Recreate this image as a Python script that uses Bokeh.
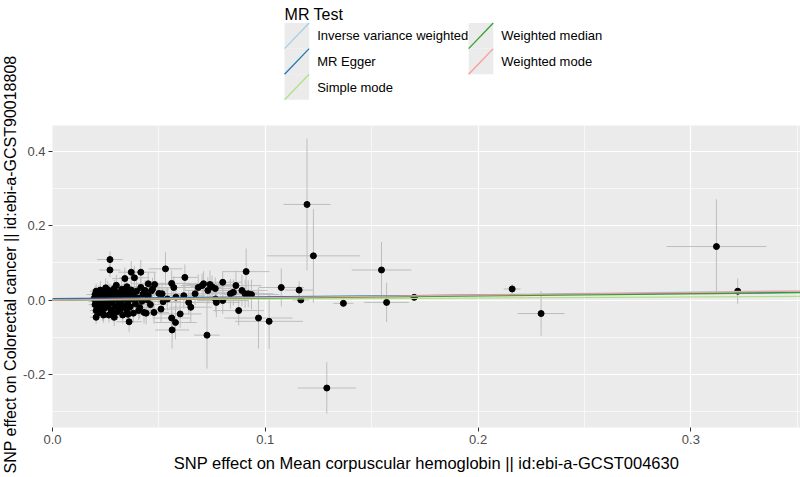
import math
from bokeh.plotting import figure
from bokeh.models import Range1d, FixedTicker, Slope, ColumnDataSource, NumeralTickFormatter
from bokeh.layouts import column, row
from bokeh.embed import file_html
from bokeh.resources import INLINE
from bokeh.core.properties import value

FONT = "Liberation Sans"

# ---- data: SNP effects (exposure bx, outcome by) and their standard errors ----
outlier_bx = [0.312, 0.322, 0.2296, 0.216, 0.1196, 0.1226, 0.1546, 0.157, 0.170, 0.1367,
              0.1289, 0.1075, 0.1159, 0.1167, 0.0968, 0.1018]
outlier_by = [0.144, 0.024, -0.036, 0.030, 0.257, 0.119, 0.081, -0.006, 0.0075, -0.0086,
              -0.236, 0.034, 0.027, 0.0005, -0.048, -0.057]
outlier_sx = [0.0235, 0.0015, 0.011, 0.004, 0.011, 0.0218, 0.014, 0.0105, 0.002, 0.0047,
              0.0137, 0.0106, 0.0067, 0.0039, 0.016, 0.016]
outlier_sy = [0.127, 0.034, 0.060, 0.013, 0.177, 0.126, 0.075, 0.053, 0.008, 0.010,
              0.069, 0.051, 0.024, 0.006, 0.082, 0.074]

mid_bx = [0.091, 0.0531, 0.0622, 0.080, 0.0726, 0.0562, 0.0875, 0.0477, 0.048, 0.047,
          0.050, 0.051, 0.0515, 0.052, 0.054, 0.056, 0.056, 0.057, 0.0578, 0.058,
          0.060, 0.0617, 0.064, 0.065, 0.067, 0.0685, 0.0703, 0.071, 0.073, 0.074,
          0.075, 0.0765, 0.0766, 0.077, 0.080, 0.0836, 0.085, 0.0862, 0.089, 0.0905,
          0.092, 0.0935]
mid_by = [0.0766, 0.084, 0.061, 0.048, -0.094, -0.080, -0.028, -0.033, 0.042, 0.030,
          0.018, -0.024, 0.017, -0.004, 0.003, 0.045, -0.048, 0.034, -0.060, 0.008,
          -0.037, 0.012, -0.006, -0.019, 0.017, 0.034, 0.039, 0.044, 0.026, 0.042,
          0.036, 0.031, 0.003, -0.006, -0.001, 0.017, 0.021, 0.039, 0.026, 0.017,
          0.017, 0.015]
mid_sx = [0.011, 0.008, 0.006, 0.009, 0.006, 0.008, 0.012, 0.007, 0.008, 0.008,
          0.008, 0.009, 0.009, 0.008, 0.009, 0.009, 0.009, 0.009, 0.010, 0.009,
          0.010, 0.010, 0.010, 0.010, 0.010, 0.011, 0.010, 0.010, 0.011, 0.011,
          0.010, 0.010, 0.011, 0.011, 0.012, 0.012, 0.012, 0.012, 0.012, 0.012,
          0.012, 0.013]
mid_sy = [0.062, 0.045, 0.035, 0.030, 0.090, 0.050, 0.040, 0.030, 0.032, 0.030,
          0.028, 0.035, 0.030, 0.027, 0.030, 0.035, 0.040, 0.030, 0.045, 0.032,
          0.038, 0.035, 0.033, 0.040, 0.030, 0.035, 0.032, 0.034, 0.036, 0.038,
          0.030, 0.030, 0.034, 0.040, 0.036, 0.040, 0.035, 0.040, 0.042, 0.038,
          0.036, 0.040]

cluster_bx = [0.0205, 0.0195, 0.020, 0.020, 0.0205, 0.021, 0.021, 0.0215, 0.022, 0.022,
              0.0225, 0.023, 0.023, 0.0235, 0.024, 0.024, 0.0245, 0.025, 0.025, 0.0255,
              0.026, 0.026, 0.0265, 0.027, 0.027, 0.027, 0.0275, 0.028, 0.028, 0.0285,
              0.029, 0.029, 0.0295, 0.030, 0.030, 0.0305, 0.031, 0.031, 0.0315, 0.032,
              0.032, 0.0325, 0.033, 0.033, 0.0335, 0.034, 0.034, 0.0345, 0.035, 0.035,
              0.0355, 0.036, 0.036, 0.0365, 0.037, 0.037, 0.0375, 0.038, 0.038, 0.0385,
              0.039, 0.0395, 0.040, 0.0405, 0.041, 0.0415, 0.0415, 0.042, 0.0425, 0.043,
              0.0435, 0.044, 0.0445, 0.045, 0.045, 0.046, 0.0465, 0.0205, 0.022, 0.0235,
              0.0245, 0.026, 0.0265, 0.0285, 0.0295, 0.031, 0.0325, 0.034, 0.0355, 0.0365,
              0.024, 0.0215]
cluster_by = [-0.046, 0.004, -0.012, 0.015, -0.028, 0.008, -0.004, 0.019, -0.018, 0.000,
              0.027, -0.008, 0.011, -0.034, 0.004, 0.021, -0.022, -0.003, 0.033, 0.013,
              -0.014, 0.006, -0.040, 0.109, 0.081, 0.024, -0.026, -0.007, 0.015, 0.002,
              -0.046, 0.031, -0.017, 0.009, 0.040, -0.031, -0.002, 0.020, -0.011, 0.013,
              -0.024, 0.029, -0.040, 0.004, 0.022, -0.015, 0.058, 0.010, -0.028, 0.036,
              -0.004, -0.058, 0.018, -0.018, 0.075, 0.027, 0.003, -0.035, 0.012, 0.060,
              -0.010, 0.024, 0.006, -0.028, -0.020, 0.075, 0.034, -0.003, 0.016, -0.033,
              0.026, -0.035, 0.001, 0.044, 0.012, -0.012, 0.025, 0.024, -0.025, 0.016,
              -0.012, 0.028, -0.004, -0.035, 0.017, -0.021, 0.000, 0.030, -0.038, 0.008,
              -0.040, -0.035]
cluster_sx = [0.003, 0.003, 0.003, 0.004, 0.003, 0.003, 0.004, 0.003, 0.004, 0.003,
              0.004, 0.004, 0.003, 0.004, 0.004, 0.004, 0.004, 0.004, 0.005, 0.004,
              0.004, 0.004, 0.005, 0.006, 0.005, 0.004, 0.005, 0.004, 0.004, 0.005,
              0.005, 0.005, 0.005, 0.005, 0.005, 0.005, 0.005, 0.005, 0.005, 0.005,
              0.005, 0.006, 0.005, 0.005, 0.005, 0.006, 0.006, 0.006, 0.006, 0.006,
              0.006, 0.006, 0.006, 0.006, 0.006, 0.006, 0.006, 0.006, 0.006, 0.007,
              0.006, 0.007, 0.007, 0.007, 0.007, 0.007, 0.007, 0.007, 0.007, 0.007,
              0.007, 0.008, 0.007, 0.008, 0.008, 0.008, 0.008, 0.003, 0.003, 0.004,
              0.004, 0.004, 0.004, 0.005, 0.005, 0.005, 0.005, 0.006, 0.006, 0.006,
              0.004, 0.003]
cluster_sy = [0.018, 0.016, 0.020, 0.022, 0.015, 0.018, 0.025, 0.020, 0.021, 0.014,
              0.024, 0.020, 0.017, 0.022, 0.019, 0.020, 0.018, 0.023, 0.026, 0.020,
              0.024, 0.018, 0.020, 0.022, 0.020, 0.021, 0.027, 0.019, 0.022, 0.020,
              0.024, 0.023, 0.020, 0.021, 0.028, 0.022, 0.019, 0.026, 0.024, 0.020,
              0.021, 0.025, 0.023, 0.018, 0.022, 0.027, 0.030, 0.020, 0.024, 0.026,
              0.021, 0.028, 0.023, 0.025, 0.030, 0.022, 0.020, 0.026, 0.024, 0.032,
              0.022, 0.027, 0.021, 0.025, 0.030, 0.033, 0.028, 0.024, 0.026, 0.030,
              0.028, 0.030, 0.025, 0.030, 0.027, 0.029, 0.026, 0.020, 0.018, 0.019,
              0.022, 0.024, 0.020, 0.022, 0.021, 0.020, 0.023, 0.025, 0.024, 0.020,
              0.021, 0.017]

methods = ["Inverse variance weighted", "MR Egger", "Simple mode",
           "Weighted median", "Weighted mode"]
method_colors = ["#a6cee3", "#1f78b4", "#b2df8a", "#33a02c", "#fb9a99"]
method_slopes = [0.072, 0.049, 0.029, 0.057, 0.068]
method_intercepts = [0.0, 0.004, 0.0, 0.0, 0.0]

x_ticks = [0.0, 0.1, 0.2, 0.3]
x_minor = [0.05, 0.15, 0.25, 0.35]
y_ticks = [-0.2, 0.0, 0.2, 0.4]
y_minor = [-0.3, -0.1, 0.1, 0.3]

x_title = "SNP effect on Mean corpuscular hemoglobin || id:ebi-a-GCST004630"
y_title = "SNP effect on Colorectal cancer || id:ebi-a-GCST90018808"
legend_title = "MR Test"

# ---- assemble ----
bx = outlier_bx + mid_bx + cluster_bx
by = outlier_by + mid_by + cluster_by
sx = outlier_sx + mid_sx + cluster_sx
sy = outlier_sy + mid_sy + cluster_sy

src = ColumnDataSource(dict(
    bx=bx, by=by,
    xlo=[b - s for b, s in zip(bx, sx)], xhi=[b + s for b, s in zip(bx, sx)],
    ylo=[b - s for b, s in zip(by, sy)], yhi=[b + s for b, s in zip(by, sy)],
))

STRIP_W = 20
TOTAL_H = 477
LEG_H = 118

# ---- main panel ----
p = figure(width=800 - STRIP_W, height=TOTAL_H - LEG_H,
           x_range=Range1d(0, 0.3515), y_range=Range1d(-0.342, 0.469),
           output_backend="svg", toolbar_location=None, title=None,
           min_border_left=30, min_border_right=0, min_border_top=7, min_border_bottom=50)
p.background_fill_color = "#EBEBEB"
p.border_fill_color = "white"
p.outline_line_color = None

xt = FixedTicker(ticks=x_ticks, minor_ticks=x_minor)
yt = FixedTicker(ticks=y_ticks, minor_ticks=y_minor)
p.xaxis.ticker = xt
p.yaxis.ticker = yt
p.xgrid.ticker = xt
p.ygrid.ticker = yt
for g in (p.xgrid, p.ygrid):
    g.grid_line_color = "white"
    g.grid_line_width = 1.2
    g.minor_grid_line_color = "white"
    g.minor_grid_line_width = 0.6

for ax in (p.xaxis, p.yaxis):
    ax.formatter = NumeralTickFormatter(format="0.0")
    ax.axis_line_color = None
    ax.major_tick_line_color = "#333333"
    ax.major_tick_line_width = 1
    ax.major_tick_out = 4
    ax.major_tick_in = 0
    ax.minor_tick_line_color = None
    ax.major_label_text_font = FONT
    ax.major_label_text_font_size = "13px"
    ax.major_label_text_color = "#4D4D4D"
    ax.major_label_standoff = 3

p.xaxis.axis_label = x_title
p.xaxis.axis_label_text_font = FONT
p.xaxis.axis_label_text_font_size = "16.5px"
p.xaxis.axis_label_text_font_style = "normal"
p.xaxis.axis_label_text_color = "black"
p.xaxis.axis_label_standoff = 7

p.segment(x0="bx", y0="ylo", x1="bx", y1="yhi", source=src, line_color="#BEBEBE", line_width=1)
p.segment(x0="xlo", y0="by", x1="xhi", y1="by", source=src, line_color="#BEBEBE", line_width=1)
p.scatter(x="bx", y="by", source=src, size=6, fill_color="black", line_color="black")

for slope, icpt, col in zip(method_slopes, method_intercepts, method_colors):
    p.add_layout(Slope(gradient=slope, y_intercept=icpt, line_color=col, line_width=1.2))

# ---- legend strip above the panel (pixel units) ----
leg = figure(width=800 - STRIP_W, height=LEG_H, x_range=Range1d(STRIP_W, 800), y_range=Range1d(LEG_H, 0),
             x_axis_type=None, y_axis_type=None, output_backend="svg",
             toolbar_location=None, title=None, min_border=0)
leg.outline_line_color = None
leg.background_fill_color = "white"
leg.border_fill_color = "white"

key_size = 25.6
col_left = [262, 454]
row_top0 = 22.5
kl, kr, kt, kb, tx, ty = [], [], [], [], [], []
for i, m in enumerate(methods):
    c, r = i // 3, i % 3
    left = col_left[c]
    top = row_top0 + r * key_size
    kl.append(left); kr.append(left + key_size)
    kt.append(top); kb.append(top + key_size)
    tx.append(left + 34); ty.append(top + key_size / 2)

leg.quad(left=kl, right=kr, top=kt, bottom=kb, fill_color="#EBEBEB", line_color=None)
leg.segment(x0=kl, y0=kb, x1=kr, y1=kt, line_color=method_colors, line_width=1.3)
leg.text(x=tx, y=ty, text=methods, text_font=value(FONT), text_font_size="13px",
         text_baseline="middle", text_align="left", text_color="black")
leg.text(x=[262], y=[14], text=[legend_title], text_font=value(FONT), text_font_size="16px",
         text_baseline="alphabetic", text_align="left", text_color="black")

# ---- left strip carrying the vertical y-axis title ----
strip = figure(width=STRIP_W, height=TOTAL_H, x_range=Range1d(0, STRIP_W), y_range=Range1d(TOTAL_H, 0),
               x_axis_type=None, y_axis_type=None, output_backend="svg",
               toolbar_location=None, title=None, min_border=0)
strip.outline_line_color = None
strip.background_fill_color = "white"
strip.border_fill_color = "white"
strip.text(x=[10], y=[264], text=[y_title], angle=math.pi / 2, text_font=value(FONT),
           text_font_size="16px", text_baseline="middle", text_align="center",
           text_color="black")

layout = row(strip, column(leg, p))
open("out.html", "w").write(file_html(layout, INLINE))
